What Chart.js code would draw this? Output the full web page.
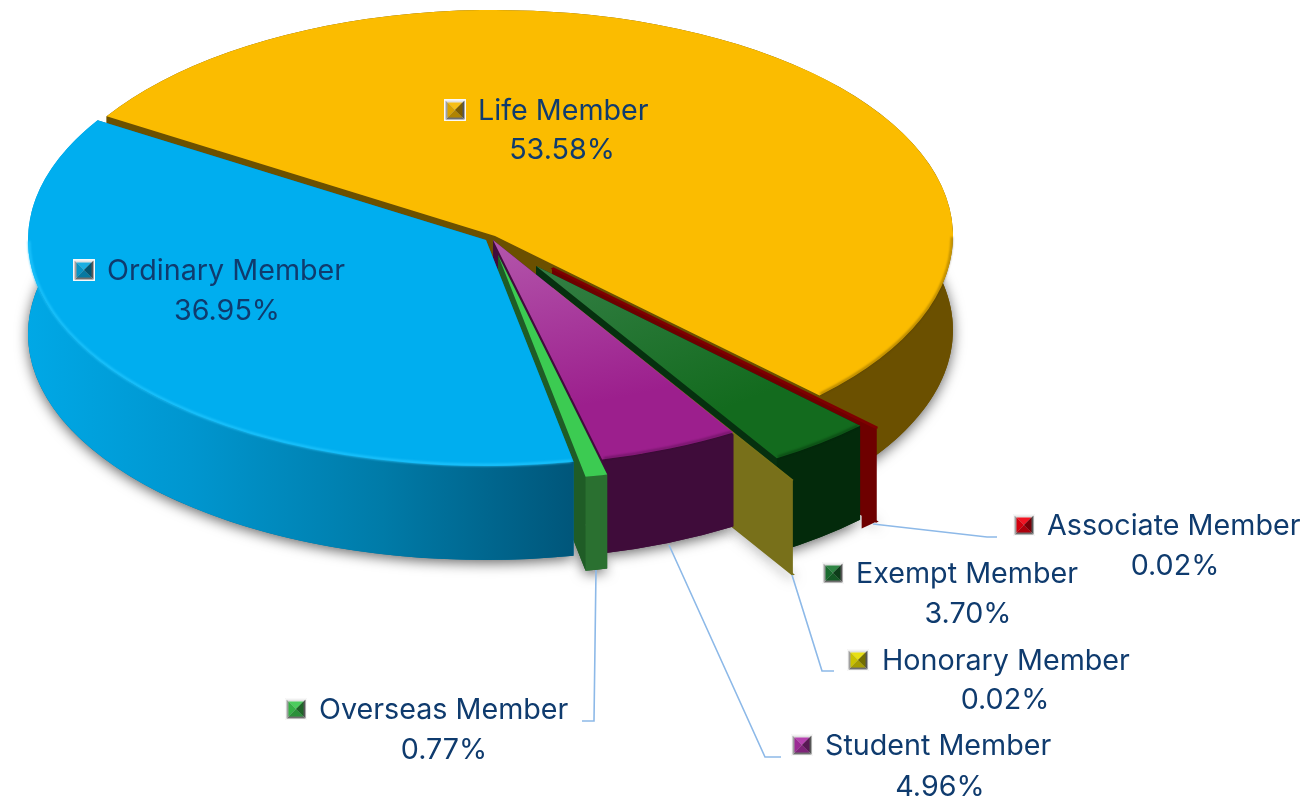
<!DOCTYPE html>
<html><head><meta charset="utf-8">
<style>html,body{margin:0;padding:0;background:#fff}canvas{display:block}</style>
<script src="https://cdn.jsdelivr.net/npm/chart.js@4"></script>
</head><body><canvas id="c" width="1313" height="799"></canvas>
<script>
// ---- data ----
const categories = ['Life Member','Associate Member','Exempt Member','Honorary Member','Student Member','Overseas Member','Ordinary Member'];
const shareValues = [53.58,0.02,3.70,0.02,4.96,0.77,36.95];

// ---- styles ----
const topColors  = ['#FBBC00','#7E0000','#136B1E','#7A7318','#9C1F8D','#3CCB52','#00AEEF'];
const topInner   = [null,null,'#347F45',null,'#B356AB',null,null];
const cutColors  = ['#6B5000','#6E0000','#06300F','#78701A','#420C3C','#1F5C26','#006F9C'];
const bandStops  = [
  [[0,'#6B5000'],[1,'#6B5000']],
  [[0,'#6E0000'],[1,'#6E0000']],
  [[0,'#032A0B'],[1,'#032A0B']],
  [[0,'#78701A'],[1,'#78701A']],
  [[0,'#3F0C3A'],[1,'#3F0C3A']],
  [[0,'#2A7030'],[1,'#2A7030']],
  [[0,'#00A8E6'],[.3,'#0096CF'],[.65,'#007BA8'],[1,'#00567A']]
];
const rimColors  = ['rgba(70,50,0,.5)',null,'rgba(0,30,5,.5)',null,'rgba(30,0,30,.45)',null,'rgba(37,200,255,.85)'];
const keyColors  = ['#F5B800','#F00010','#1C7A34','#E6DC00','#B030A8','#3CC850','#08A8E0'];
const borderPx   = [0,3.5,0,1.6,0,0,0];
const wallPadDeg = [0,2.5,0,0,0,0,0];
// layout in page pixels
const PIE = {x:495,y:236,rx:458,ry:226,depth:94,rotation:302};
const sliceShift = [[0,0],[57,32],[41,30],[57,52],[-2,4],[3,19],[-9,4]];
const labelPos = [ // key centre x,y ; name left x ; percent centre x,y
  [455,110,478,562,149],[1024,525,1047,1175,565],[833,573,856,968,613],
  [858,660,882,1005,699],[802,745,825,940,786],[296,709,319,444,749],[84,270,107,227,310]
];
const leaders = [
  [[873,524],[987,537],[997,537]],
  [[792,575],[822,671],[834,671]],
  [[669,545],[765,757],[781,757]],
  [[596,570],[594,721],[582,721]]
];
const FONT = '28.7px Inter, "Noto Sans", sans-serif';
const TEXT = '#0F3B6E';
const TEXT_DY = 1.5;

function shade(hex,f){
  const n=parseInt(hex.slice(1),16);let r=n>>16,g=(n>>8)&255,b=n&255;
  const m=c=>Math.round(f>=0?c+(255-c)*f:c*(1+f));
  return `rgb(${m(r)},${m(g)},${m(b)})`;
}
function sliceGeom(arc,i){
  const {startAngle:a,endAngle:b}=arc.getProps(['startAngle','endAngle'],true);
  return {a,b,cx:PIE.x+sliceShift[i][0],cy:PIE.y+sliceShift[i][1]};
}
function ptOn(g,t,d){return [g.cx+PIE.rx*Math.cos(t),g.cy+PIE.ry*Math.sin(t)+(d||0)];}

const pie3d = {
  id:'pie3d',
  afterDatasetsUpdate(chart){
    const arcs=chart.getDatasetMeta(0).data, R=arcs[0].outerRadius;
    chart.$base={x:arcs[0].x,y:arcs[0].y,sx:PIE.rx/R,sy:PIE.ry/R};
    arcs.forEach((arc,i)=>{
      arc.x+=sliceShift[i][0]/chart.$base.sx;
      arc.y+=sliceShift[i][1]/chart.$base.sy;
    });
  },
  beforeDatasetsDraw(chart){
    const ctx=chart.ctx, arcs=chart.getDatasetMeta(0).data, D=PIE.depth;
    // soft shadow cast by the underside
    ctx.save();
    ctx.shadowColor='rgba(0,0,0,.6)';ctx.shadowBlur=13;ctx.shadowOffsetY=3;
    arcs.forEach((arc,i)=>{
      const g=sliceGeom(arc,i);
      ctx.fillStyle=ctx.strokeStyle=cutColors[i];ctx.lineWidth=2;
      ctx.beginPath();ctx.moveTo(g.cx,g.cy+D);
      ctx.ellipse(g.cx,g.cy+D,PIE.rx,PIE.ry,0,g.a,g.b);ctx.closePath();
      ctx.fill();if(borderPx[i])ctx.stroke();
    });
    ctx.restore();
    // walls, back to front
    arcs.forEach((arc,i)=>{
      const g=sliceGeom(arc,i);
      ctx.fillStyle=cutColors[i];
      [g.a,g.b].forEach(t=>{
        const p=ptOn(g,t);
        ctx.beginPath();ctx.moveTo(g.cx,g.cy);ctx.lineTo(p[0],p[1]);
        ctx.lineTo(p[0],p[1]+D);ctx.lineTo(g.cx,g.cy+D);ctx.closePath();ctx.fill();
      });
      const end=g.b+wallPadDeg[i]*Math.PI/180;
      if(end-g.a>0.002){
        const lg=ctx.createLinearGradient(i===6?27:0,0,i===6?573:1313,0);
        bandStops[i].forEach(s=>lg.addColorStop(s[0],s[1]));
        ctx.fillStyle=lg;
        ctx.beginPath();
        ctx.ellipse(g.cx,g.cy,PIE.rx,PIE.ry,0,g.a,end);
        ctx.ellipse(g.cx,g.cy+D,PIE.rx,PIE.ry,0,end,g.a,true);
        ctx.closePath();ctx.fill();
      }
    });
    // squash the library's round pie into the tilted ellipse
    const b=chart.$base;
    ctx.save();
    ctx.translate(PIE.x,PIE.y);ctx.scale(b.sx,b.sy);ctx.translate(-b.x,-b.y);
  },
  afterDatasetsDraw(chart){
    const ctx=chart.ctx, arcs=chart.getDatasetMeta(0).data;
    ctx.restore();
    // rim on the front half of the top faces only
    const TAU=Math.PI*2;
    arcs.forEach((arc,i)=>{
      if(!rimColors[i])return;
      const g=sliceGeom(arc,i);
      // clip the slice's sweep to the front half (0..PI in canvas angle)
      let a=g.a,b=g.b;
      let k=Math.floor(a/TAU);a-=k*TAU;b-=k*TAU;
      let from,to;
      if(a<Math.PI){from=a;to=Math.min(b,Math.PI);}
      else if(b>TAU){from=TAU;to=Math.min(b,TAU+Math.PI);}
      else return;
      ctx.save();ctx.strokeStyle=rimColors[i];ctx.lineWidth=i===6?2.4:1.8;
      ctx.filter='blur(.8px)';
      ctx.beginPath();ctx.ellipse(g.cx,g.cy,PIE.rx-1,PIE.ry-1,0,from+.004,to-.004);ctx.stroke();
      ctx.restore();
    });
    // leader lines
    ctx.save();ctx.strokeStyle='#8DB9E8';ctx.lineWidth=1.6;
    leaders.forEach(l=>{ctx.beginPath();l.forEach((p,k)=>k?ctx.lineTo(p[0],p[1]):ctx.moveTo(p[0],p[1]));ctx.stroke();});
    ctx.restore();
    // labels with bevelled keys
    ctx.save();ctx.font=FONT;ctx.textBaseline='middle';
    categories.forEach((name,i)=>{
      const p=labelPos[i];
      drawKey(ctx,p[0],p[1],keyColors[i]);
      ctx.fillStyle=TEXT;ctx.textAlign='left';ctx.fillText(name,p[2],p[1]+TEXT_DY);
      ctx.textAlign='center';ctx.fillText(shareValues[i].toFixed(2)+'%',p[3],p[4]+TEXT_DY);
    });
    ctx.restore();
  }
};
function pyramid(ctx,x,y,s,cols){
  const pts=[[x-s,y-s],[x+s,y-s],[x+s,y+s],[x-s,y+s]];
  cols.forEach((col,k)=>{
    const a=pts[k],b=pts[(k+1)%4];
    ctx.fillStyle=col;ctx.beginPath();ctx.moveTo(a[0],a[1]);ctx.lineTo(b[0],b[1]);ctx.lineTo(x,y);ctx.closePath();ctx.fill();
  });
}
function drawKey(ctx,x,y,c){
  ctx.fillStyle='#F2F2F2';ctx.fillRect(x-11,y-11,22,22);
  ctx.fillStyle='#FFFFFF';ctx.fillRect(x-10.5,y-10.5,21,21);
  // grey bevel: top, right, bottom, left
  pyramid(ctx,x,y,9.5,['#E2E2E2','#565656','#6E6E6E','#A0A0A0']);
  // coloured face: top, right, bottom, left
  pyramid(ctx,x,y,7.5,[shade(c,.08),shade(c,-.5),shade(c,-.28),shade(c,-.12)]);
}
Chart.register(pie3d);
new Chart(document.getElementById('c'),{
  type:'pie',
  data:{labels:categories,datasets:[{
    data:shareValues,
    clip:false,
    borderWidth:borderPx,
    borderColor:topColors,
    backgroundColor(ctx){
      const i=ctx.dataIndex;
      if(i===undefined||!topInner[i])return topColors[i];
      const ch=ctx.chart,cx=ch.width/2+sliceShift[i][0]/(PIE.rx/398),cy=ch.height/2+sliceShift[i][1]/(PIE.ry/398);
      const mid=(PIE.rotation+3.6*(shareValues.slice(0,i).reduce((a,b)=>a+b,0)+shareValues[i]/2)-90)*Math.PI/180;
      const g=ch.ctx.createLinearGradient(cx,cy,cx+398*Math.cos(mid),cy+398*Math.sin(mid));
      g.addColorStop(0,topInner[i]);g.addColorStop(.75,topColors[i]);g.addColorStop(1,topColors[i]);
      return g;
    }
  }]},
  options:{
    responsive:false,animation:false,rotation:PIE.rotation,
    layout:{padding:0},
    plugins:{legend:{display:false},tooltip:{enabled:false}}
  }
});
</script></body></html>
